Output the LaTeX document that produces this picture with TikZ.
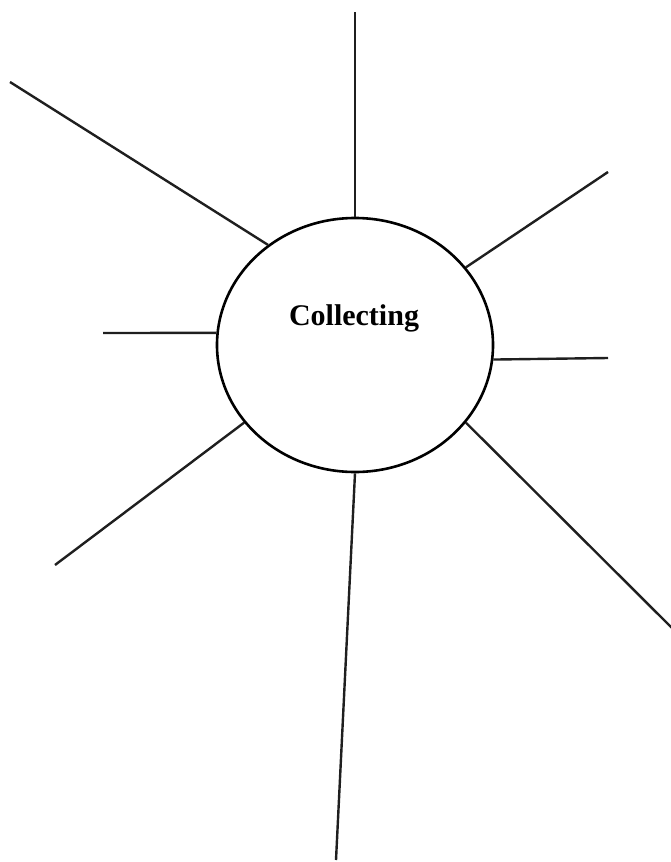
\documentclass[tikz,border=0pt]{standalone}
\usepackage{fontspec}
\setmainfont{Liberation Serif}
\usetikzlibrary{shapes.geometric}

\begin{document}
\begin{tikzpicture}[x=1pt,y=-1pt]
\tikzstyle{hub}=[draw,ellipse,line width=2.6pt,minimum width=276pt,minimum height=254pt,inner sep=0pt]
\tikzstyle{ray}=[line width=2.4pt,draw=black!88]
\useasboundingbox (0,0) rectangle (671,862);
\node[hub] (collect) at (355,345) {};
\node[font=\fontsize{30}{36}\selectfont\bfseries] (title) at (354,318) {Collecting};
% free ends of the rays
\coordinate (tN) at (355,12);
\coordinate (tNW) at (10,82);
\coordinate (tNE) at (608,172);
\coordinate (tW) at (103,333);
\coordinate (tE) at (608,358);
\coordinate (tSW) at (55,565);
\coordinate (tSE) at (672,628);
\coordinate (tS) at (336,860);
\foreach \a/\b in {north/tN,131.8/tNW,35/tNE,175/tW,354.6/tE,215.8/tSW,325/tSE,270/tS}{\draw[ray] (collect.\a) -- (\b);}
\end{tikzpicture}
\end{document}
